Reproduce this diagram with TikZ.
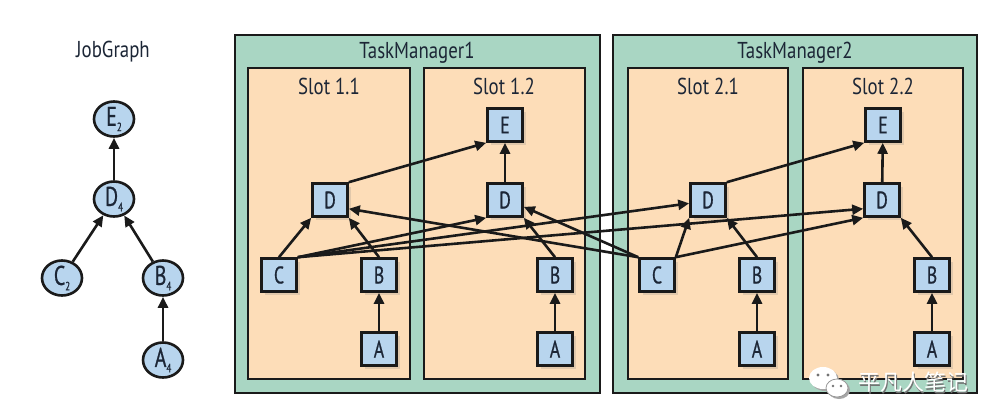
\documentclass[tikz,border=0pt]{standalone}
\usepackage{fontspec}
\setmainfont{PT Sans}[FakeStretch=0.82]
\newfontfamily\taskfont{PT Sans}[FakeStretch=0.74,FakeBold=0.7]
\newfontfamily\cjk{Noto Sans CJK SC}
\usetikzlibrary{arrows.meta,shadows,shapes.geometric}
\definecolor{tmgreen}{HTML}{A9D6C3}
\definecolor{slotpeach}{HTML}{FDDDB8}
\definecolor{taskblue}{HTML}{B8D5EE}
\definecolor{ink}{HTML}{1A1A1A}
\definecolor{txt}{HTML}{1C2636}
\newcommand{\jsub}[2]{#1\raisebox{-0.4ex}{\fontsize{12}{12}\selectfont #2}}
\begin{document}
\begin{tikzpicture}[x=1pt,y=-1pt,
  tmbox/.style={draw=ink,line width=2.8pt,fill=tmgreen},
  slotbox/.style={draw=ink,line width=2.8pt,fill=slotpeach},
  title/.style={font=\fontsize{23}{25}\selectfont,text=txt,inner sep=0pt},
  task/.style={draw=ink,line width=2.6pt,fill=taskblue,minimum width=35pt,minimum height=33pt,
    inner sep=0pt,font=\taskfont\fontsize{24}{24}\selectfont,text=txt,
    drop shadow={opacity=0.22,shadow xshift=3pt,shadow yshift=-3pt}},
  jv/.style={ellipse,draw=ink,line width=2.6pt,fill=taskblue,minimum width=40pt,minimum height=35pt,
    inner sep=0pt,font=\taskfont\fontsize{27}{27}\selectfont,text=txt},
  edge/.style={draw=ink,line width=2.6pt,-{Triangle[length=11pt,width=10pt]}}
]
\useasboundingbox (0,0) rectangle (998,410);
\fill[white] (0,0) rectangle (998,410);

% ---------- JobGraph ----------
\node[title,font=\fontsize{23}{25}\selectfont] (jgtitle) at (113,52) {JobGraph};
\node[jv] (JE) at (114,119) {\jsub{E}{2}};
\node[jv] (JD) at (114,199) {\jsub{D}{4}};
\node[jv] (JC) at (62,278) {\jsub{C}{2}};
\node[jv] (JB) at (163,278) {\jsub{B}{4}};
\node[jv] (JA) at (163,360) {\jsub{A}{4}};
\draw[edge] (JD) -- (JE);
\draw[edge] (JC) -- (JD);
\draw[edge] (JB) -- (JD);
\draw[edge] (JA) -- (JB);

% ---------- TaskManagers and slots ----------
\draw[tmbox] (235,35) rectangle (600,393);
\draw[tmbox] (613,35) rectangle (977,393);
\draw[slotbox] (248,68) rectangle (410,379);
\draw[slotbox] (424,68) rectangle (585,379);
\draw[slotbox] (628,68) rectangle (788,379);
\draw[slotbox] (803,68) rectangle (963,379);

\node[title] (tm1) at (417,53) {TaskManager1};
\node[title] (tm2) at (795,53) {TaskManager2};
\node[title] (s11) at (329,86) {Slot 1.1};
\node[title] (s12) at (504,86) {Slot 1.2};
\node[title] (s21) at (708,86) {Slot 2.1};
\node[title] (s22) at (883,86) {Slot 2.2};

% ---------- tasks ----------
\node[task] (E12) at (505,125) {E};
\node[task] (D11) at (330,200) {D};
\node[task] (D12) at (505,200) {D};
\node[task] (C1)  at (279,275) {C};
\node[task] (B11) at (379,275) {B};
\node[task] (A11) at (379,349) {A};
\node[task] (B12) at (555,275) {B};
\node[task] (A12) at (555,349) {A};

\node[task] (D21) at (708,200) {D};
\node[task] (C2)  at (657,275) {C};
\node[task] (B21) at (757,275) {B};
\node[task] (A21) at (757,349) {A};
\node[task] (E22) at (883,125) {E};
\node[task] (D22) at (882,200) {D};
\node[task] (B22) at (932,275) {B};
\node[task] (A22) at (932,349) {A};

% ---------- edges ----------
\draw[edge] (A11) -- (B11);
\draw[edge] (A12) -- (B12);
\draw[edge] (A21) -- (B21);
\draw[edge] (A22) -- (B22);

\draw[edge] (B11.north) -- (D11.south east);
\draw[edge] (B12.north) -- (D12.south east);
\draw[edge] (B21.north) -- (D21.south east);
\draw[edge] (B22.north) -- (D22.south east);

\draw[edge] (C1.north) -- (D11.south west);
\draw[edge] (C1.north east) -- (D12.south west);
\draw[edge] (C1.north east) -- (D21.190);
\draw[edge] (C1.north east) -- (D22.205);

\draw[edge] (C2.north west) -- (D11.-25);
\draw[edge] (C2.north west) -- (D12.-20);
\draw[edge] (C2.north east) -- (D21.south west);
\draw[edge] (C2.north east) -- (D22.south west);

\draw[edge] (D12) -- (E12);
\draw[edge] (D22) -- (E22);
\draw[edge] (D11.north east) -- (E12.south west);
\draw[edge] (D21.north east) -- (E22.south west);

% ---------- watermark ----------
\begin{scope}[line width=0.8pt]
\fill[black!35] (825,380) ellipse [x radius=14pt,y radius=11pt];
\fill[black!35] (839,390) ellipse [x radius=11pt,y radius=9pt];
\fill[white] (823,378) ellipse [x radius=14pt,y radius=11pt];
\draw[black!40,fill=white] (837,388) ellipse [x radius=11pt,y radius=9pt];
\fill[black!55] (818,375) circle (1.7pt) (828,375) circle (1.7pt) (833,386) circle (1.4pt) (841,386) circle (1.4pt);
\end{scope}
\node[font=\cjk\fontsize{22}{22}\selectfont,text=black!55,inner sep=0pt] (wmshadow) at (914,384) {平凡人笔记};
\node[font=\cjk\fontsize{22}{22}\selectfont,text=white,inner sep=0pt] (wm) at (913,382.5) {平凡人笔记};
\end{tikzpicture}
\end{document}
